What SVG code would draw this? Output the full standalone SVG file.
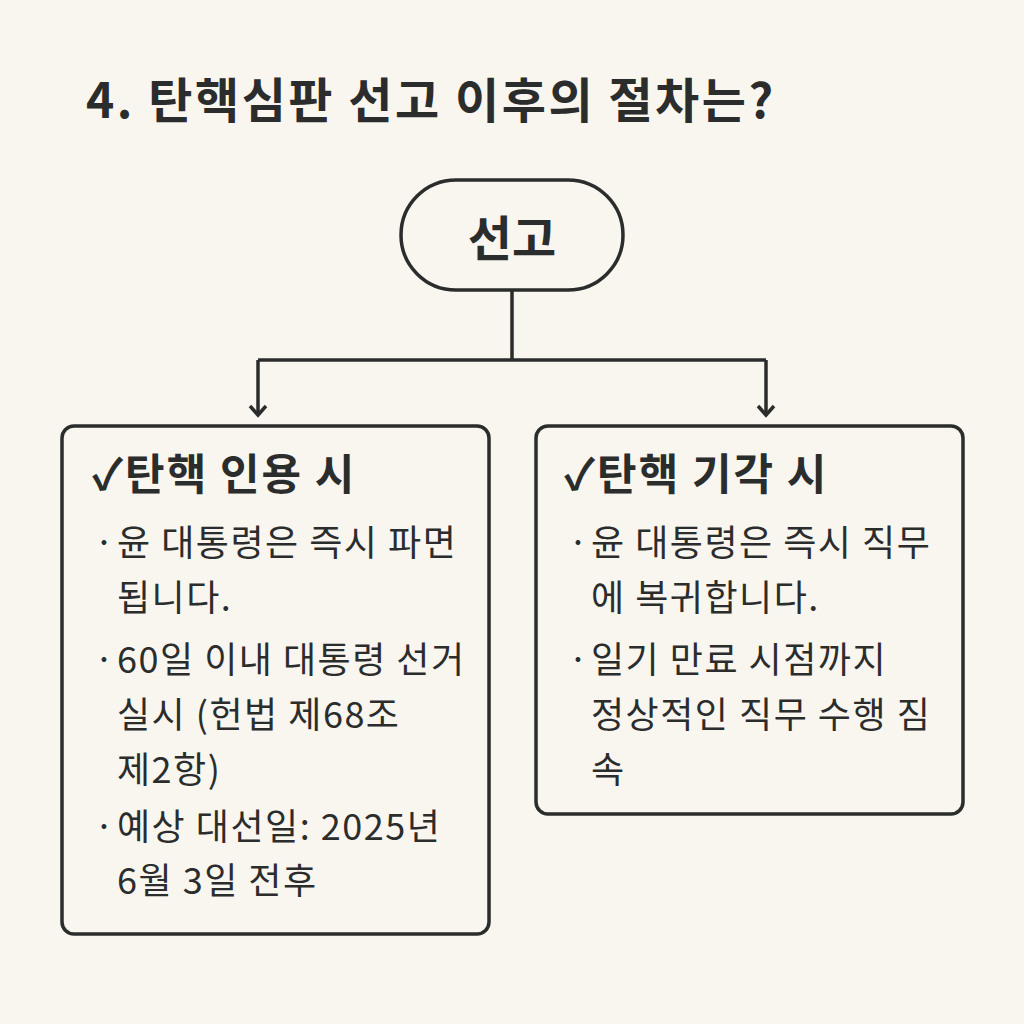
<svg xmlns="http://www.w3.org/2000/svg" width="1024" height="1024" viewBox="0 0 1024 1024">
<style>
text{font-family:"Noto Sans CJK KR","Noto Sans",sans-serif;fill:#2b2d2d}
.t{font-size:48px;font-weight:700;letter-spacing:2.5px}
.s{font-size:48px;font-weight:700}
.h{font-size:43px;font-weight:700;letter-spacing:2px}
.b{font-size:36px;font-weight:400;letter-spacing:1.5px}
.box{fill:none;stroke:#2b2d2d;stroke-width:3.5}
.ln{fill:none;stroke:#2b2d2d;stroke-width:3.5}
</style>
<defs><marker id="ar" viewBox="0 0 20 20" refX="17" refY="10" markerWidth="20" markerHeight="20" markerUnits="userSpaceOnUse" orient="auto"><path d="M8,2 L17,10 L8,18" fill="none" stroke="#2b2d2d" stroke-width="3.5"/></marker></defs>
<rect width="1024" height="1024" fill="#f9f6f0"/>
<text class="t" x="86" y="118">4. 탄핵심판 선고 이후의 절차는?</text>
<g id="connectors">
<path class="ln" d="M512,290 V360 M258,360 H766"/>
<path class="ln" d="M258,360 V415" marker-end="url(#ar)"/>
<path class="ln" d="M766,360 V415" marker-end="url(#ar)"/>
</g>
<g id="top"><rect class="box" x="401" y="180" width="222" height="110" rx="55"/><text class="s" x="512" y="256" text-anchor="middle">선고</text></g>
<g id="left"><rect class="box" x="62" y="426" width="427" height="508" rx="12"/>
<text class="h" x="92" y="490">✓탄핵 인용 시</text>
<text class="b" x="94" y="556">·</text><text class="b" x="117" y="556">윤 대통령은 즉시 파면</text>
<text class="b" x="117" y="611">됩니다.</text>
<text class="b" x="94" y="673">·</text><text class="b" x="117" y="673">60일 이내 대통령 선거</text>
<text class="b" x="117" y="728">실시 (헌법 제68조</text>
<text class="b" x="117" y="783">제2항)</text>
<text class="b" x="94" y="840">·</text><text class="b" x="117" y="840">예상 대선일: 2025년</text>
<text class="b" x="117" y="894">6월 3일 전후</text>
</g>
<g id="right"><rect class="box" x="536" y="426" width="427" height="388" rx="12"/>
<text class="h" x="564" y="490">✓탄핵 기각 시</text>
<text class="b" x="568" y="556">·</text><text class="b" x="591" y="556">윤 대통령은 즉시 직무</text>
<text class="b" x="591" y="611">에 복귀합니다.</text>
<text class="b" x="568" y="673">·</text><text class="b" x="591" y="673">일기 만료 시점까지</text>
<text class="b" x="591" y="728">정상적인 직무 수행 짐</text>
<text class="b" x="591" y="783">속</text>
</g>
</svg>
